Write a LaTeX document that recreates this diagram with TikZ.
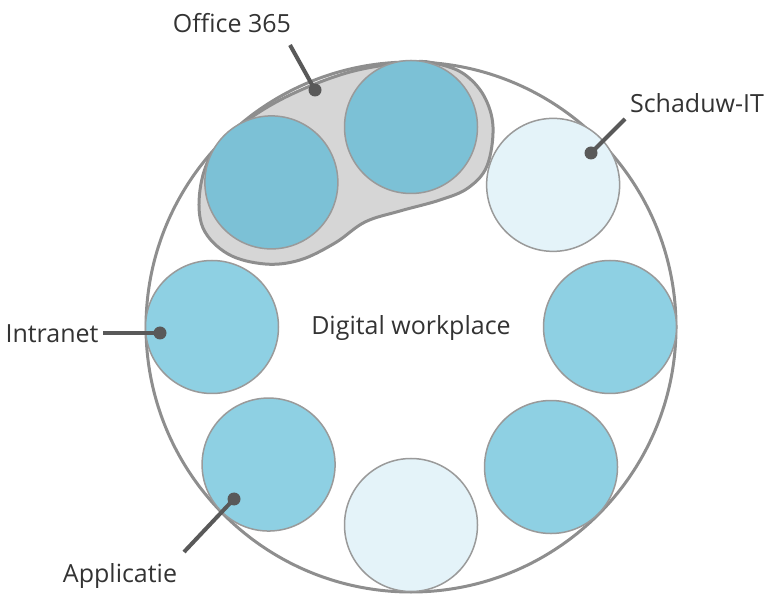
\documentclass[tikz,border=0pt]{standalone}
\usepackage{fontspec}
\setmainfont{Open Sans}

\definecolor{rand}{HTML}{8E8E8E}
\definecolor{randlicht}{HTML}{9A9A9A}
\definecolor{blobgrijs}{HTML}{D6D6D6}
\definecolor{officeblauw}{HTML}{7CC1D6}
\definecolor{blauw}{HTML}{8ED0E3}
\definecolor{lichtblauw}{HTML}{E4F3F9}
\definecolor{lijngrijs}{HTML}{595959}
\definecolor{tekstkleur}{HTML}{333333}

\tikzset{
    bol/.style={circle, draw=randlicht, line width=1.5pt, minimum size=133pt, inner sep=0pt},
    stip/.style={circle, fill=lijngrijs, minimum size=13pt, inner sep=0pt},
    lijn/.style={draw=lijngrijs, line width=4pt},
    tekst/.style={font=\fontsize{25}{30}\selectfont, text=tekstkleur, anchor=base, inner sep=0pt}
}

\begin{document}
\begin{tikzpicture}[x=1pt, y=1pt]
    \useasboundingbox (0,0) rectangle (770,594);

    % Werkplek
    \node[circle, draw=rand, line width=3pt, minimum size=530pt, inner sep=0pt] (werkplek) at (411,267) {};

    % Office 365 vlak
    \draw[draw=rand, fill=blobgrijs, line width=3pt] plot[smooth cycle, tension=0.6] coordinates {
        (411,532) (438,530) (464,520) (484,498) (493,467) (487,428) (468,406) (440,394)
        (400,383) (365,372) (335,351) (300,334) (265,330) (228,340) (203,366)
        (200,404) (213,442) (245,472) (290,499) (350,522)};

    % Bollen
    \begin{scope}[shift={(411,267)}]
        \node[bol, fill=officeblauw] (o2) at (90:200) {};
        \node[bol, fill=officeblauw] (o1) at (134:201) {};
        \node[bol, fill=lichtblauw] (schaduw) at (45:201) {};
        \node[bol, fill=blauw] (rechts) at (0:199) {};
        \node[bol, fill=blauw] (rechtsonder) at (-45:198) {};
        \node[bol, fill=lichtblauw] (onder) at (-90:198) {};
        \node[bol, fill=blauw] (applicatie) at (-136:198) {};
        \node[bol, fill=blauw] (intranet) at (180:199) {};
    \end{scope}

    % Teksten
    \node[tekst] (tdigital) at (411,259) {Digital workplace};
    \node[tekst] (toffice) at (232,561) {Office 365};
    \node[tekst] (tschaduw) at (697,481) {Schaduw-IT};
    \node[tekst] (tintranet) at (52,251) {Intranet};
    \node[tekst] (tapplicatie) at (120,12) {Applicatie};

    % Verwijzingen
    \node[stip] (soffice) at (315,504) {};
    \node[stip] (sschaduw) at (591,441) {};
    \node[stip] (sintranet) at (160,261) {};
    \node[stip] (sapplicatie) at (234,95) {};
    \coordinate (eoffice) at (290,549);
    \coordinate (eschaduw) at (625,475);
    \coordinate (eintranet) at (103,261);
    \coordinate (eapplicatie) at (184,42);
    \draw[lijn] (eoffice) -- (soffice.center);
    \draw[lijn] (eschaduw) -- (sschaduw.center);
    \draw[lijn] (eintranet) -- (sintranet.center);
    \draw[lijn] (eapplicatie) -- (sapplicatie.center);
\end{tikzpicture}
\end{document}
